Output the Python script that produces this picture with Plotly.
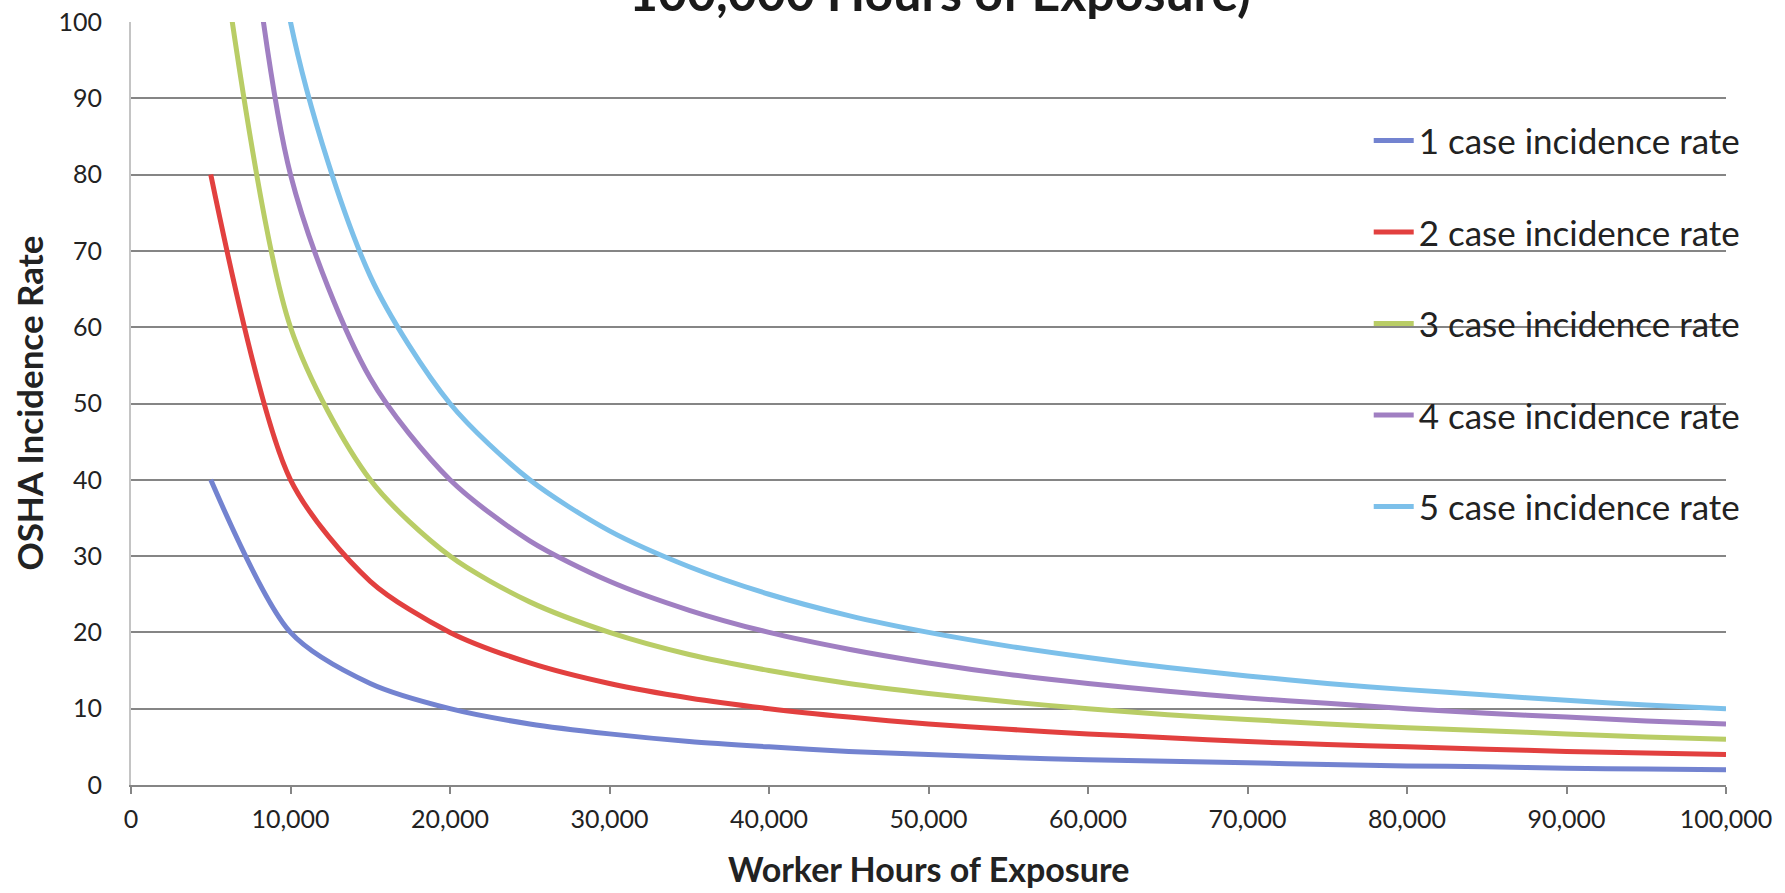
import plotly.graph_objects as go

# Worker hours of exposure (x) and the OSHA incidence rate for 1-5 recordable cases
hours = [5000, 10000, 15000, 20000, 25000, 30000, 35000, 40000, 45000, 50000,
         55000, 60000, 65000, 70000, 75000, 80000, 85000, 90000, 95000, 100000]

rate_1_case = [40, 20, 13.3, 10, 8, 6.7, 5.7, 5, 4.4, 4,
               3.6, 3.3, 3.1, 2.9, 2.7, 2.5, 2.4, 2.2, 2.1, 2]
rate_2_case = [80, 40, 26.7, 20, 16, 13.3, 11.4, 10, 8.9, 8,
               7.3, 6.7, 6.2, 5.7, 5.3, 5, 4.7, 4.4, 4.2, 4]
rate_3_case = [120, 60, 40, 30, 24, 20, 17.1, 15, 13.3, 12,
               10.9, 10, 9.2, 8.6, 8, 7.5, 7.1, 6.7, 6.3, 6]
rate_4_case = [160, 80, 53.3, 40, 32, 26.7, 22.9, 20, 17.8, 16,
               14.5, 13.3, 12.3, 11.4, 10.7, 10, 9.4, 8.9, 8.4, 8]
rate_5_case = [200, 100, 66.7, 50, 40, 33.3, 28.6, 25, 22.2, 20,
               18.2, 16.7, 15.4, 14.3, 13.3, 12.5, 11.8, 11.1, 10.5, 10]

series_names = ["1 case incidence rate", "2 case incidence rate",
                "3 case incidence rate", "4 case incidence rate",
                "5 case incidence rate"]
series_values = [rate_1_case, rate_2_case, rate_3_case, rate_4_case, rate_5_case]
series_colors = ["#7383d0", "#e2403f", "#b9cd66", "#a07fc2", "#7cc0ea"]

x_ticks = list(range(0, 100001, 10000))
y_ticks = list(range(0, 101, 10))

title_line = "100,000 Hours of Exposure)"
x_title = "Worker Hours of Exposure"
y_title = "OSHA Incidence Rate"

FONT = "Lato, 'Open Sans', sans-serif"
TEXT = "#222222"
GRID = "#858585"

fig = go.Figure()
for i, (name, vals, col) in enumerate(zip(series_names, series_values, series_colors)):
    fig.add_trace(go.Scatter(
        x=hours, y=vals, name=name, mode="lines",
        line=dict(color=col, width=5, shape="spline", smoothing=0.8),
        legendgroup=f"g{i}",
    ))

fig.update_layout(
    width=1785, height=893,
    margin=dict(l=131, r=59, t=22, b=108, autoexpand=False),
    paper_bgcolor="white", plot_bgcolor="white",
    font=dict(family=FONT, color=TEXT, size=24),
    showlegend=True,
    legend=dict(
        x=0.776, y=0.883, xanchor="left", yanchor="top",
        bgcolor="rgba(0,0,0,0)",
        font=dict(size=35, color=TEXT, family=FONT),
        tracegroupgap=43, itemwidth=40,
    ),
    xaxis=dict(
        range=[0, 100000], tickvals=x_ticks, tickformat=",d",
        showgrid=False, zeroline=False, automargin=False,
        showline=True, linecolor=GRID, linewidth=2,
        ticks="outside", ticklen=7, tickwidth=2, tickcolor=GRID,
        ticklabelstandoff=4,
        tickfont=dict(size=25, color=TEXT),
    ),
    yaxis=dict(
        range=[0, 100], tickvals=y_ticks,
        showgrid=True, gridcolor=GRID, gridwidth=2,
        zeroline=False, automargin=False,
        showline=True, linecolor="#c4c4c4", linewidth=2,
        ticks="", ticklabelstandoff=22,
        tickfont=dict(size=25, color=TEXT),
    ),
)

# Axis titles
fig.add_annotation(
    text=f"<b>{x_title}</b>", xref="paper", yref="paper",
    x=0.5, y=-0.109, xanchor="center", yanchor="middle",
    showarrow=False, font=dict(size=34, color=TEXT, family=FONT),
)
fig.add_annotation(
    text=f"<b>{y_title}</b>", xref="paper", yref="paper", textangle=-90,
    x=-0.0645, y=0.5, xanchor="center", yanchor="middle",
    showarrow=False, font=dict(size=35, color=TEXT, family=FONT),
)

# Last line of the chart title, running off the top edge of the page
fig.add_annotation(
    text=f"<b>{title_line}</b>", xref="paper", yref="paper",
    x=0.507, y=0.998, xanchor="center", yanchor="bottom",
    showarrow=False, font=dict(size=50, color="#1a1a1a", family=FONT),
)

fig.write_html("out.html")
